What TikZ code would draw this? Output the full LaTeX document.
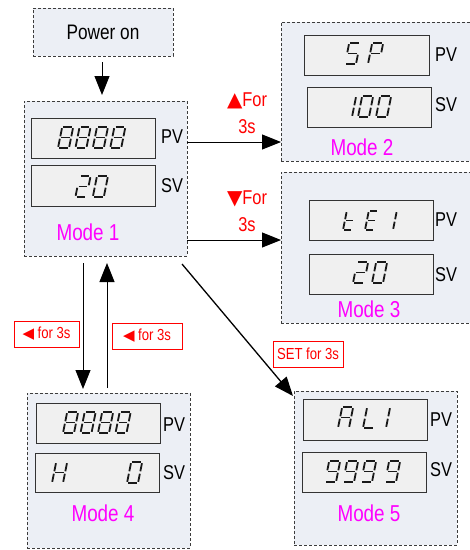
\documentclass[tikz,border=0pt]{standalone}
\usepackage{fontspec}
\setmainfont[FakeStretch=0.82]{Liberation Sans}
\newfontfamily\symf{DejaVu Sans}
\usetikzlibrary{arrows.meta}
\definecolor{boxbg}{RGB}{236,239,245}
\definecolor{dispbg}{RGB}{240,240,240}
\definecolor{dashc}{RGB}{60,60,60}
\definecolor{magc}{RGB}{255,0,255}
\definecolor{redc}{RGB}{255,0,0}
\def\dw{11}\def\dh{21}\def\sgap{1.2}
\newcommand\sgA{\draw[segline] (\sgap,-\dh) -- (\dw-\sgap,-\dh);}
\newcommand\sgB{\draw[segline] (\dw,-\dh+\sgap) -- (\dw,-\dh/2-\sgap);}
\newcommand\sgC{\draw[segline] (\dw,-\dh/2+\sgap) -- (\dw,-\sgap);}
\newcommand\sgD{\draw[segline] (\sgap,0) -- (\dw-\sgap,0);}
\newcommand\sgE{\draw[segline] (0,-\dh/2+\sgap) -- (0,-\sgap);}
\newcommand\sgF{\draw[segline] (0,-\dh+\sgap) -- (0,-\dh/2-\sgap);}
\newcommand\sgG{\draw[segline] (\sgap,-\dh/2) -- (\dw-\sgap,-\dh/2);}
\newcommand\chEight{\sgA\sgB\sgC\sgD\sgE\sgF\sgG}
\newcommand\chTwo{\sgA\sgB\sgG\sgE\sgD}
\newcommand\chZero{\sgA\sgB\sgC\sgD\sgE\sgF}
\newcommand\chFive{\sgA\sgF\sgG\sgC\sgD}
\newcommand\chP{\sgA\sgB\sgF\sgG\sgE}
\newcommand\chOne{\sgB\sgC}
\newcommand\chT{\sgF\sgE\sgG\sgD}
\newcommand\chE{\sgA\sgF\sgG\sgE\sgD}
\newcommand\chA{\sgA\sgB\sgC\sgE\sgF\sgG}
\newcommand\chL{\sgF\sgE\sgD}
\newcommand\chH{\sgB\sgC\sgE\sgF\sgG}
\newcommand\chNine{\sgA\sgB\sgC\sgD\sgF\sgG}
\newcommand\sdig[3]{\begin{scope}[shift={(#1,#2)},xslant=0.2]#3\end{scope}}
\begin{document}
\begin{tikzpicture}[x=1pt,y=-1pt,
  segline/.style={line width=1.8pt,line cap=butt,black!90},
  mbox/.style={draw=dashc,dashed,dash pattern=on 3pt off 2pt,line width=0.8pt,fill=boxbg,anchor=north west,inner sep=0pt,outer sep=0pt},
  disp/.style={draw=black!80,line width=0.9pt,fill=dispbg,anchor=north west,inner sep=0pt,outer sep=0pt},
  pvl/.style={font=\fontsize{20}{24}\selectfont,inner sep=0pt},
  model/.style={font=\fontsize{23}{27}\selectfont,text=magc,inner sep=0pt},
  keyl/.style={font=\fontsize{20}{27}\selectfont,text=redc,align=center,inner sep=0pt},
  keybox/.style={draw=redc,line width=0.7pt,fill=white,text=redc,font=\fontsize{16}{19}\selectfont,minimum height=26pt,inner sep=0pt},
  arr/.style={line width=1pt,-{Triangle[length=19pt,width=15pt]}}]
\useasboundingbox (0,0) rectangle (470,550);
% boxes
\node[mbox,minimum width=140pt,minimum height=48pt] (pw) at (33,8) {};
\node[font=\fontsize{21}{25}\selectfont] (pwt) at (103,32) {Power on};
\node[mbox,minimum width=163pt,minimum height=155pt] (m1) at (24,101) {};
\node[mbox,minimum width=195pt,minimum height=139pt] (m2) at (281,22) {};
\node[mbox,minimum width=195pt,minimum height=151pt] (m3) at (281,172) {};
\node[mbox,minimum width=163pt,minimum height=155pt] (m4) at (27,393) {};
\node[mbox,minimum width=163pt,minimum height=154pt] (m5) at (294,391) {};
% displays
\node[disp,minimum width=124pt,minimum height=40pt] (d1p) at (31,118) {};
\node[disp,minimum width=124pt,minimum height=41pt] (d1s) at (31,165) {};
\node[disp,minimum width=125pt,minimum height=40pt] (d2p) at (304,35) {};
\node[disp,minimum width=124pt,minimum height=40pt] (d2s) at (307,87) {};
\node[disp,minimum width=124pt,minimum height=40pt] (d3p) at (309,200) {};
\node[disp,minimum width=124pt,minimum height=40pt] (d3s) at (309,254) {};
\node[disp,minimum width=124pt,minimum height=40pt] (d4p) at (36,403) {};
\node[disp,minimum width=124pt,minimum height=39pt] (d4s) at (35,453) {};
\node[disp,minimum width=124pt,minimum height=41pt] (d5p) at (303,399) {};
\node[disp,minimum width=124pt,minimum height=40pt] (d5s) at (302,452) {};
% digits
\sdig{58}{148}{\chEight}\sdig{75.4}{148}{\chEight}\sdig{92.8}{148}{\chEight}\sdig{110.2}{148}{\chEight}
\sdig{75.4}{197}{\chTwo}\sdig{92.8}{197}{\chZero}
\sdig{345}{64}{\chFive}\sdig{368}{64}{\chP}
\sdig{341}{117}{\chOne}\sdig{358}{117}{\chZero}\sdig{376}{117}{\chZero}
\begin{scope}\def\dw{9}\def\dh{19}
\sdig{343}{230}{\chT}\sdig{365}{230}{\chE}\sdig{384}{230}{\chOne}
\end{scope}
\sdig{353}{283}{\chTwo}\sdig{372}{283}{\chZero}
\sdig{63}{433}{\chEight}\sdig{80.5}{433}{\chEight}\sdig{98}{433}{\chEight}\sdig{115.5}{433}{\chEight}
\sdig{52}{483}{\chH}\sdig{127}{483}{\chZero}
\sdig{338}{428}{\chA}\sdig{363}{428}{\chL}\sdig{375}{428}{\chOne}
\sdig{325}{482}{\chNine}\sdig{343}{482}{\chNine}\sdig{361}{482}{\chNine}\sdig{385}{482}{\chNine}
% PV / SV labels
\node[pvl] (l1p) at (172,137) {PV};
\node[pvl] (l1s) at (172,186) {SV};
\node[pvl] (l2p) at (446,55) {PV};
\node[pvl] (l2s) at (446,105) {SV};
\node[pvl] (l3p) at (446,220) {PV};
\node[pvl] (l3s) at (446,275) {SV};
\node[pvl] (l4p) at (174,425) {PV};
\node[pvl] (l4s) at (174,473) {SV};
\node[pvl] (l5p) at (441,420) {PV};
\node[pvl] (l5s) at (441,470) {SV};
% mode labels
\node[model] (t1) at (88,232) {Mode 1};
\node[model] (t2) at (362,147) {Mode 2};
\node[model] (t3) at (369,309) {Mode 3};
\node[model] (t4) at (103,513) {Mode 4};
\node[model] (t5) at (369,513) {Mode 5};
% arrows
\draw[arr,shorten <=6pt,shorten >=6pt] (pw.south -| 102,0) -- (m1.north -| 102,0);
\draw[arr] (m1.east |- 0,142) -- (m2.west |- 0,142);
\draw[arr] (m1.east |- 0,240) -- (m3.west |- 0,240);
\draw[arr,shorten <=7pt,shorten >=4pt] (m1.south -| 83,0) -- (m4.north -| 83,0);
\draw[arr,shorten <=5pt,shorten >=7pt] (m4.north -| 107,0) -- (m1.south -| 107,0);
\draw[arr,line width=1.3pt] ([shift={(-5,8)}]m1.south east) -- ([shift={(-1,5)}]m5.north west);
% key labels
\node[keyl] (k2) at (247,113) {{\symf\fontsize{20}{27}\selectfont ▲}For\\3s};
\node[keyl] (k3) at (247,211) {{\symf\fontsize{20}{27}\selectfont ▼}For\\3s};
\node[keybox,minimum width=65pt] (k4a) at (46.5,334) {{\symf\fontsize{15}{19}\selectfont ◀} for 3s};
\node[keybox,minimum width=70pt] (k4b) at (147,336) {{\symf\fontsize{15}{19}\selectfont ◀} for 3s};
\node[keybox,minimum width=70pt] (k5) at (308,354) {SET for 3s};
\end{tikzpicture}
\end{document}
